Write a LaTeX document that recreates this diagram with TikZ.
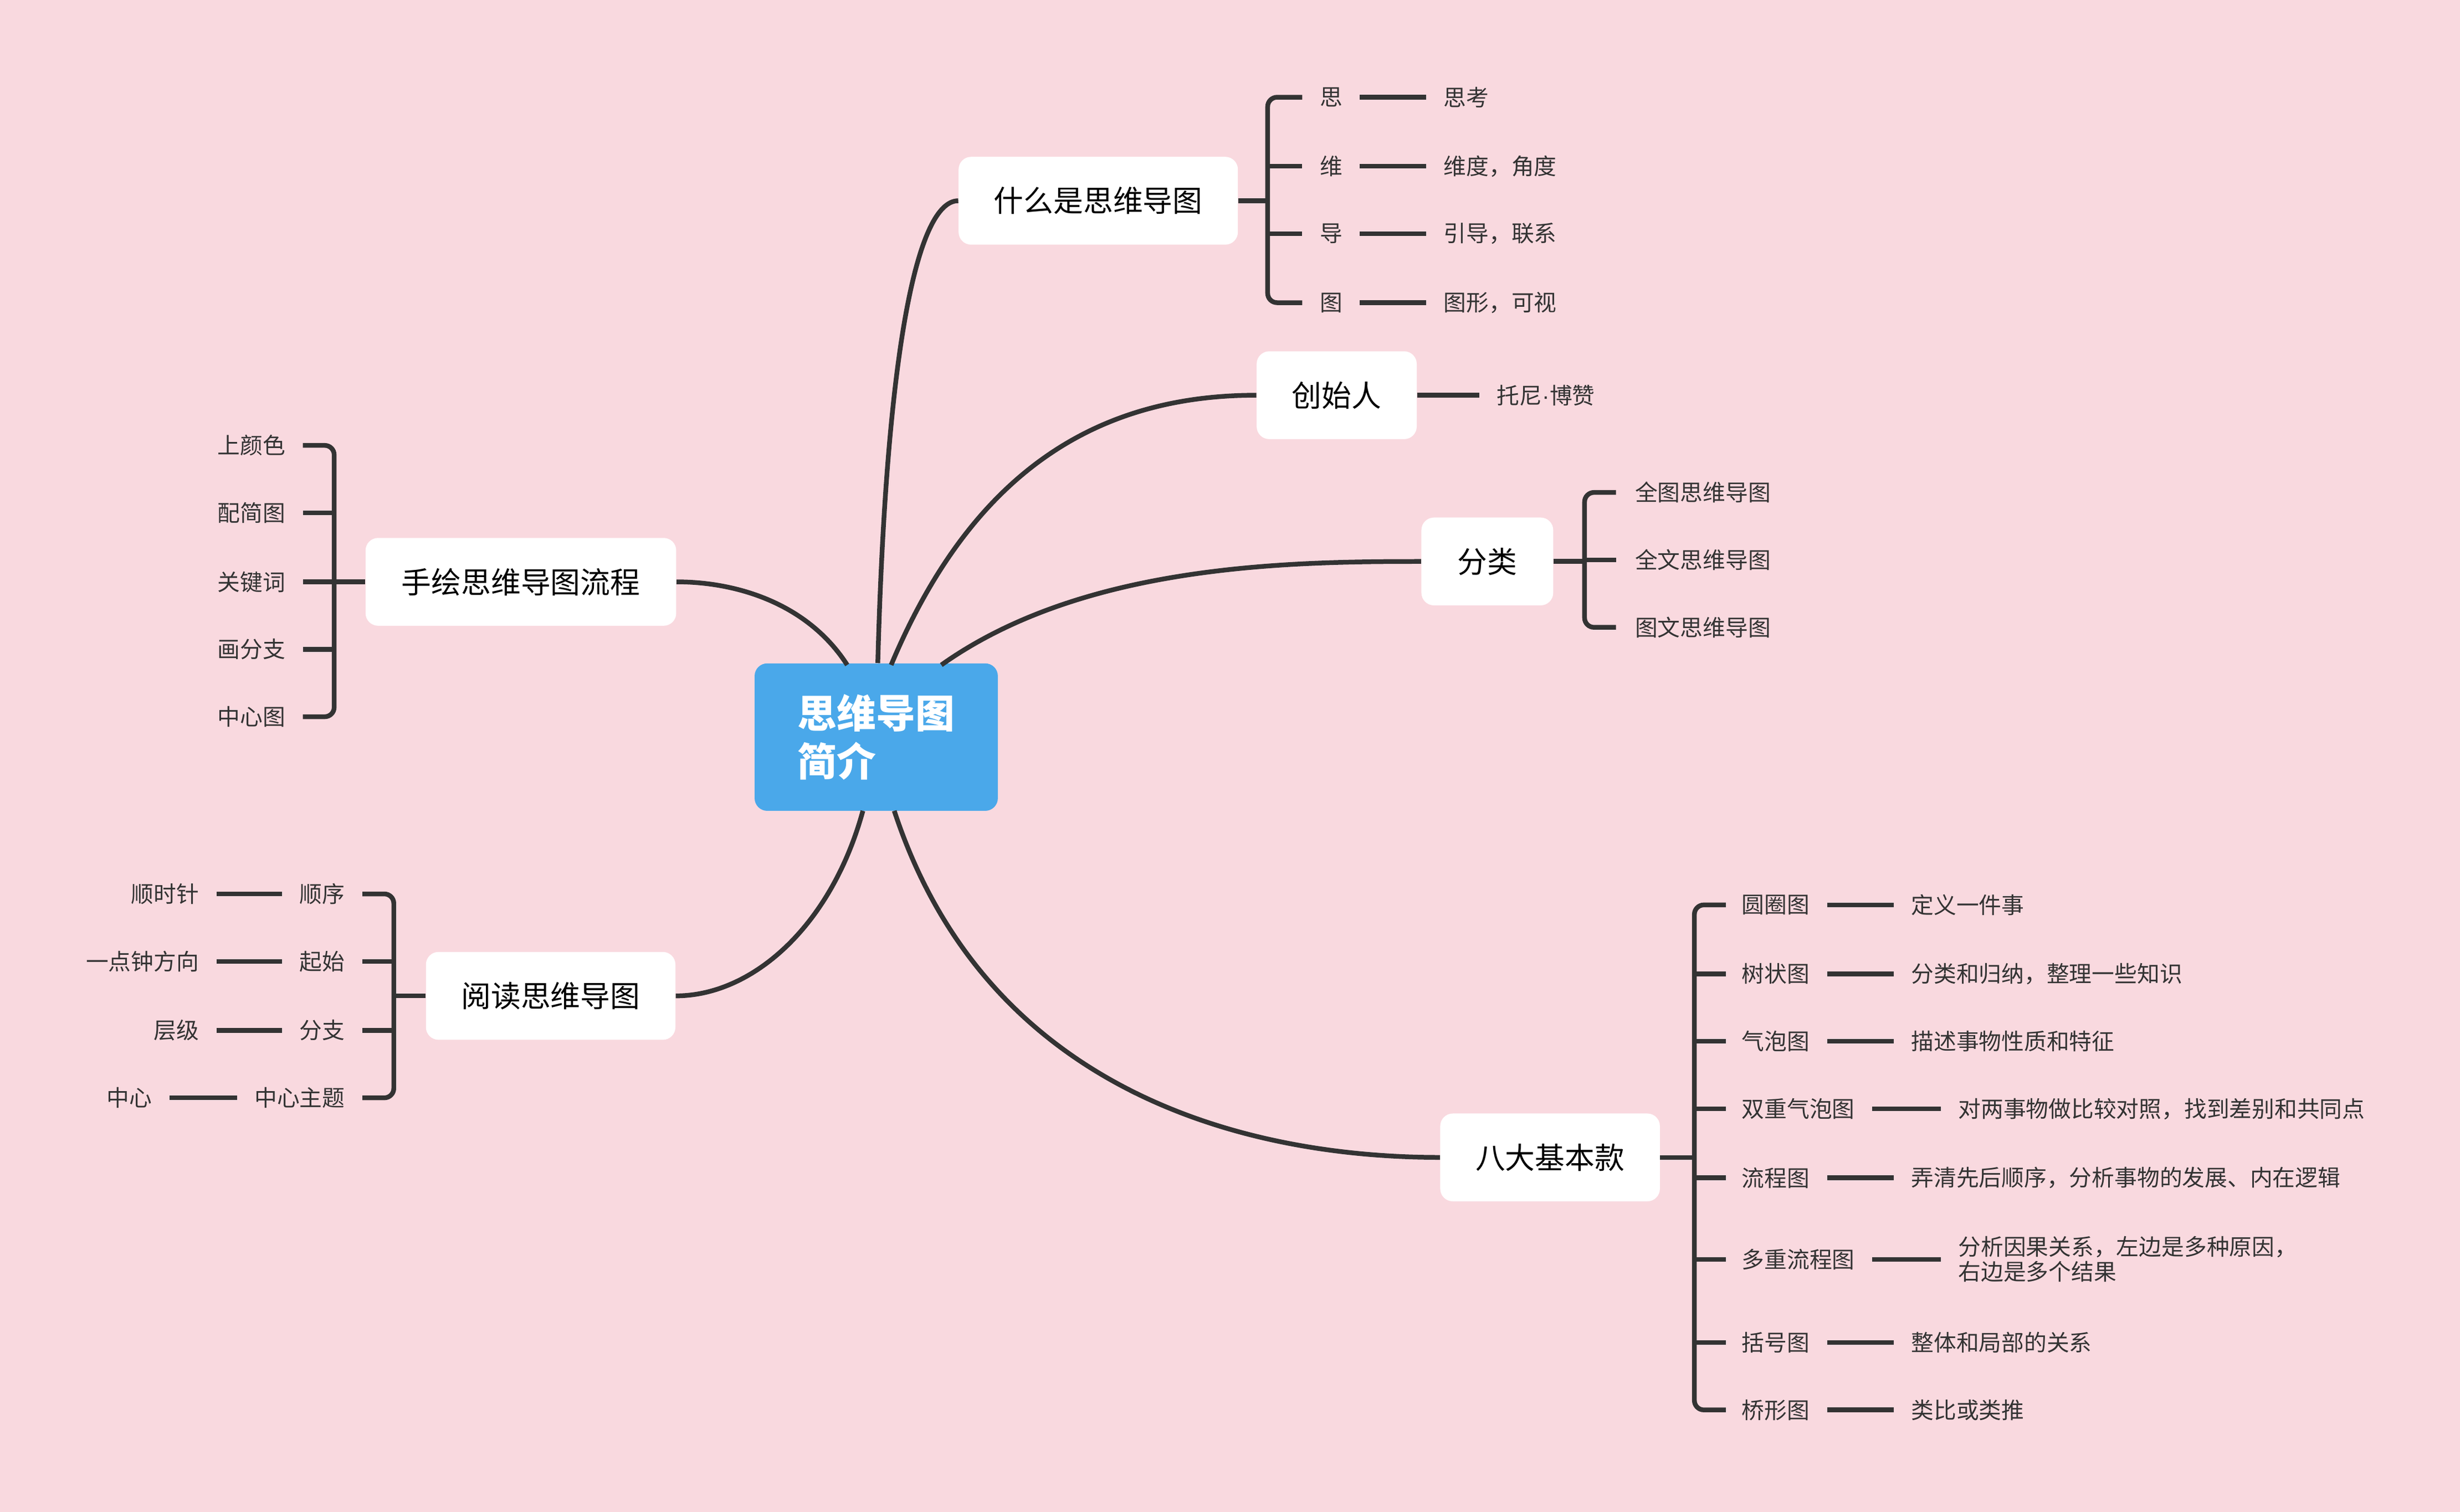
\documentclass[tikz,border=0pt]{standalone}
\usepackage{fontspec}
\setmainfont{Noto Sans CJK SC}
\newfontfamily\latf{Liberation Sans}
\definecolor{bg}{HTML}{F9D9DF}
\definecolor{ln}{HTML}{333333}
\definecolor{cblue}{HTML}{4AA8EA}
\begin{document}
\begin{tikzpicture}[x=1pt,y=-1pt,
  line/.style={draw=ln,line width=3pt},
  main/.style={fill=white,rounded corners=8pt,minimum height=56pt,inner xsep=0pt,font=\fontsize{19}{22}\selectfont,text=black},
  leaf/.style={inner sep=0pt,font=\fontsize{14.4}{17}\selectfont,text=ln},
  pair/.style={line,shorten <=11pt,shorten >=11pt}]
\fill[bg] (0,0) rectangle (1568,964);
\useasboundingbox (0,0) rectangle (1568,964);
% center
\node[fill=cblue,rounded corners=8pt,minimum width=155pt,minimum height=94pt,text=white,font=\fontsize{25}{31}\selectfont\bfseries,align=left] (c) at (558.5,470) {思维导图\\简介\hspace*{2em}};
% main nodes
\node[main,minimum width=178pt] (m1) at (700,128) {什么是思维导图};
\node[main,minimum width=102pt] (m2) at (852,252) {创始人};
\node[main,minimum width=84pt] (m3) at (948,358) {分类};
\node[main,minimum width=140pt] (m4) at (988,738) {八大基本款};
\node[main,minimum width=198pt] (m5) at (332,371) {手绘思维导图流程};
\node[main,minimum width=159pt] (m6) at (351,635) {阅读思维导图};
% curves
\draw[line] (c.north)+(1,0) .. controls (565,220) and (585,128) .. (m1.west);
\draw[line] (568,424) .. controls (620,300) and (700,252) .. (m2.west);
\draw[line] (600,424) .. controls (690,360) and (820,358) .. (m3.west);
\draw[line] (540,424) .. controls (515,385) and (470,371) .. (m5.east);
\draw[line] (550,517) .. controls (530,590) and (480,635) .. (m6.east);
\draw[line] (570,517) .. controls (630,700) and (800,738) .. (m4.west);
% m1 children
\draw[line] (m1.east) -- (808,128);
\draw[line,rounded corners=6pt] (830,62) -- (808,62) -- (808,193) -- (830,193);
\foreach \y in {106,149} \draw[line] (808,\y) -- (830,\y);
\foreach \n/\a/\b/\y in {a1/思/思考/62,a2/维/维度，角度/106,a3/导/引导，联系/149,a4/图/图形，可视/193}{
  \node[leaf,anchor=west] (\n l) at (841,\y) {\a};
  \node[leaf,anchor=west] (\n r) at (920,\y) {\b};
  \draw[pair] (\n l.east) -- (\n r.west);}
% m2
\node[leaf,anchor=west] (b1) at (954,252) {托尼{\latf ·}博赞};
\draw[line] (m2.east) -- (943,252);
% m3
\draw[line] (m3.east) -- (1010,358);
\draw[line,rounded corners=6pt] (1030,314) -- (1010,314) -- (1010,400) -- (1030,400);
\draw[line] (1010,357) -- (1030,357);
\node[leaf,anchor=west] (c1) at (1042,314) {全图思维导图};
\node[leaf,anchor=west] (c2) at (1042,357) {全文思维导图};
\node[leaf,anchor=west] (c3) at (1042,400) {图文思维导图};
% m4
\draw[line] (m4.east) -- (1080,738);
\draw[line,rounded corners=6pt] (1100,577) -- (1080,577) -- (1080,899) -- (1100,899);
\foreach \y in {621,664,707,751,803,856} \draw[line] (1080,\y) -- (1100,\y);
\foreach \n/\a/\b/\y/\xb in {d1/圆圈图/定义一件事/577/1218,d2/树状图/分类和归纳，整理一些知识/621/1218,d3/气泡图/描述事物性质和特征/664/1218,d4/双重气泡图/对两事物做比较对照，找到差别和共同点/707/1248,d5/流程图/弄清先后顺序，分析事物的发展、内在逻辑/751/1218,d7/括号图/整体和局部的关系/856/1218,d8/桥形图/类比或类推/899/1218}{
  \node[leaf,anchor=west] (\n l) at (1110,\y) {\a};
  \node[leaf,anchor=west] (\n r) at (\xb,\y) {\b};
  \draw[pair] (\n l.east) -- (\n r.west);}
\node[leaf,anchor=west] (d6l) at (1110,803) {多重流程图};
\node[leaf,anchor=west,align=left,font=\fontsize{14.4}{16}\selectfont] (d6r) at (1248,803) {分析因果关系，左边是多种原因，\\右边是多个结果};
\draw[pair] (d6l.east) -- (d6r.west);
% m5
\draw[line] (m5.west) -- (213,371);
\draw[line,rounded corners=6pt] (193,284) -- (213,284) -- (213,457) -- (193,457);
\foreach \y in {327,371,414} \draw[line] (213,\y) -- (193,\y);
\foreach \n/\a/\y in {e1/上颜色/284,e2/配简图/327,e3/关键词/371,e4/画分支/414,e5/中心图/457}
  \node[leaf,anchor=east] (\n) at (182,\y) {\a};
% m6
\draw[line] (m6.west) -- (251,635);
\draw[line,rounded corners=6pt] (231,570) -- (251,570) -- (251,700) -- (231,700);
\foreach \y in {613,657} \draw[line] (251,\y) -- (231,\y);
\foreach \n/\a/\b/\y/\xa in {f1/顺时针/顺序/570/127,f2/一点钟方向/起始/613/127,f3/层级/分支/657/127,f4/中心/中心主题/700/97}{
  \node[leaf,anchor=east] (\n r) at (220,\y) {\b};
  \node[leaf,anchor=east] (\n l) at (\xa,\y) {\a};
  \draw[pair] (\n l.east) -- (\n r.west);}
\end{tikzpicture}
\end{document}
